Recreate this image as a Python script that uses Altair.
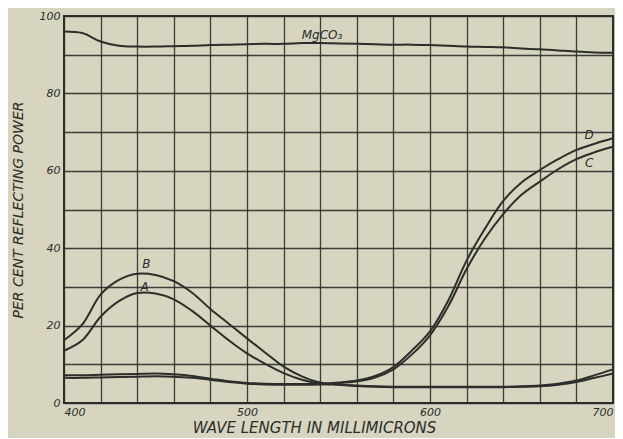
import altair as alt
import pandas as pd

wavelength = list(range(400, 701, 10))

mgco3 = [96.0, 95.6, 93.4, 92.3, 92.1, 92.1, 92.2, 92.3, 92.5, 92.6, 92.7,
         92.8, 92.8, 93.0, 93.0, 92.9, 92.8, 92.7, 92.6, 92.6, 92.5, 92.3,
         92.1, 92.0, 91.9, 91.6, 91.4, 91.1, 90.8, 90.6, 90.5]
curve_a = [13.5, 16.2, 22.3, 26.3, 28.4, 28.3, 26.8, 23.8, 20.0, 16.2, 12.8,
           10.1, 7.7, 6.0, 5.0, 4.7, 4.4, 4.2, 4.1, 4.1, 4.1, 4.1,
           4.1, 4.1, 4.1, 4.2, 4.3, 4.7, 5.4, 6.5, 7.6]
curve_b = [16.2, 20.3, 28.0, 31.8, 33.4, 33.1, 31.5, 28.5, 24.3, 20.5, 16.7,
           13.0, 9.4, 6.9, 5.3, 4.8, 4.5, 4.3, 4.2, 4.2, 4.2, 4.2,
           4.2, 4.2, 4.2, 4.3, 4.5, 5.0, 5.8, 7.2, 8.7]
curve_c = [6.5, 6.5, 6.6, 6.7, 6.8, 6.9, 6.8, 6.5, 6.0, 5.4, 5.0,
           4.8, 4.7, 4.7, 4.8, 5.1, 5.6, 6.6, 8.7, 12.5, 17.5, 25.0,
           34.6, 42.5, 48.8, 53.8, 57.2, 60.4, 63.0, 64.8, 66.2]
curve_d = [7.2, 7.2, 7.3, 7.4, 7.5, 7.6, 7.4, 7.0, 6.3, 5.6, 5.2,
           5.0, 4.9, 4.9, 5.0, 5.3, 5.8, 7.0, 9.3, 13.5, 18.5, 26.5,
           36.8, 45.0, 52.2, 57.0, 60.2, 63.0, 65.4, 67.0, 68.4]

series_names = ["MgCO3", "A", "B", "C", "D"]
series_values = [mgco3, curve_a, curve_b, curve_c, curve_d]

label_texts = ["MgCO₃", "B", "A", "D", "C"]
label_nm = [541, 445, 444, 687, 687]
label_val = [95.0, 35.8, 30.0, 69.3, 62.0]

x_grid = list(range(400, 701, 20))
y_grid = list(range(0, 101, 10))

rows = []
for name, vals in zip(series_names, series_values):
    for w, v in zip(wavelength, vals):
        rows.append({"series": name, "nm": w, "value": v})
df = pd.DataFrame(rows)
labels_df = pd.DataFrame({"text": label_texts, "nm": label_nm, "value": label_val})

ink = "#2b2e2b"
paper = "#d7d4bf"
font = "DejaVu Sans"

x_enc = alt.X(
    "nm:Q",
    scale=alt.Scale(domain=[400, 700], nice=False, zero=False),
    axis=alt.Axis(
        values=x_grid, tickCount=40,
        labelExpr="datum.value % 100 == 0 ? datum.label : ''",
        title="WAVE LENGTH IN MILLIMICRONS",
        titleFont=font, titleFontStyle="italic", titleFontWeight="normal",
        titleFontSize=15, titleColor=ink, titlePadding=3, titleX=250,
        labelFont=font, labelFontStyle="italic", labelFontSize=11,
        labelColor=ink, labelPadding=3, labelFlush=True, labelOverlap=False,
        grid=True, gridColor=ink, gridWidth=1.3, gridOpacity=0.9,
        ticks=False, domain=False,
    ),
)
y_enc = alt.Y(
    "value:Q",
    scale=alt.Scale(domain=[0, 100], nice=False),
    axis=alt.Axis(
        values=y_grid, tickCount=40,
        labelExpr="datum.value % 20 == 0 ? datum.label : ''",
        title="PER CENT REFLECTING POWER",
        titleFont=font, titleFontStyle="italic", titleFontWeight="normal",
        titleFontSize=14, titleColor=ink, titlePadding=14,
        labelFont=font, labelFontStyle="italic", labelFontSize=11,
        labelColor=ink, labelPadding=4, labelOverlap=False,
        grid=True, gridColor=ink, gridWidth=1.3, gridOpacity=0.9,
        ticks=False, domain=False,
    ),
)

lines = alt.Chart(df).mark_line(
    interpolate="catmull-rom", strokeWidth=2, color=ink
).encode(x=x_enc, y=y_enc, detail="series:N")

texts = alt.Chart(labels_df).mark_text(
    font=font, fontStyle="italic", fontSize=12, color=ink
).encode(x="nm:Q", y="value:Q", text="text:N")

chart = (
    alt.layer(lines, texts)
    .properties(
        width=549, height=387,
        background=paper,
        autosize=alt.AutoSizeParams(type="none"),
        padding={"left": 56, "top": 8, "right": 2, "bottom": 35},
    )
    .configure_view(stroke=ink, strokeWidth=2, fill=paper)
)

chart.save("out.html", embed_options={"renderer": "svg", "actions": False})
